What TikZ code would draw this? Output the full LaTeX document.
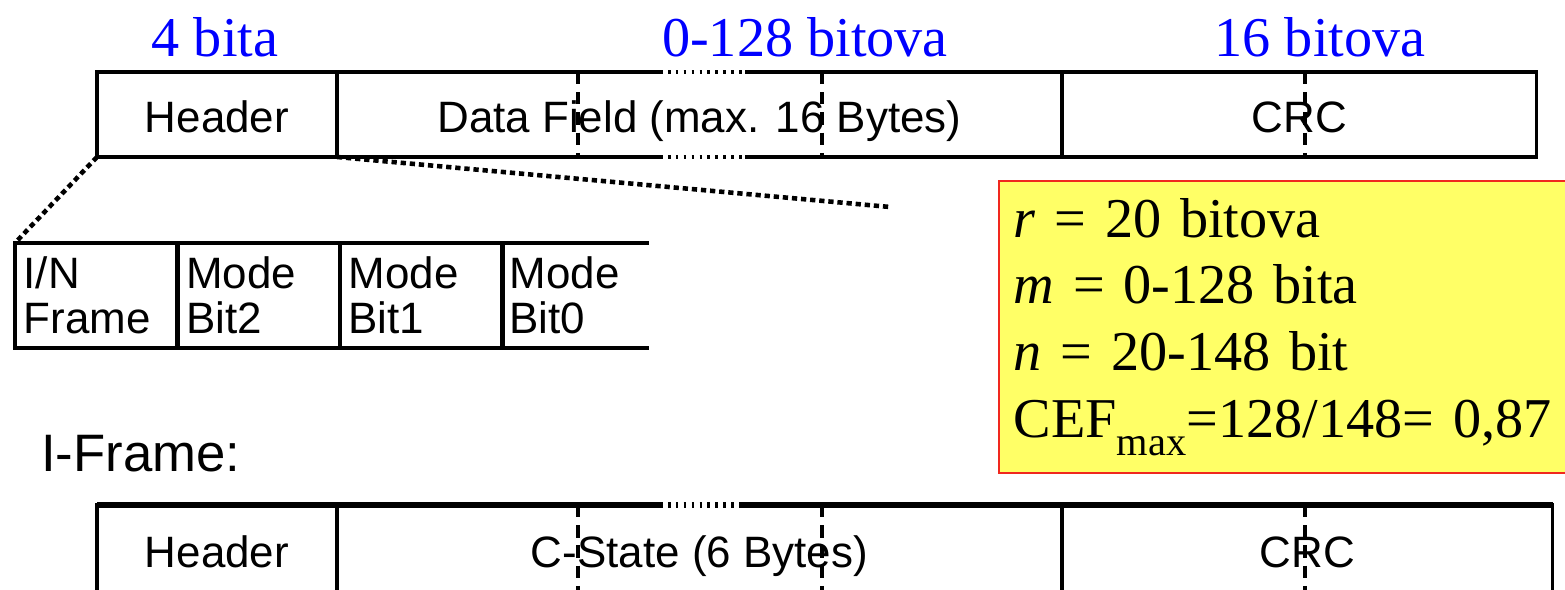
\documentclass[tikz,border=0pt]{standalone}
\usepackage{fontspec}
\setmainfont{Liberation Serif}
\newfontfamily\arialfont{Liberation Sans}
\usetikzlibrary{positioning, calc}
\definecolor{notefill}{RGB}{255,255,102}
\definecolor{noteline}{RGB}{240,40,30}

\begin{document}
\begin{tikzpicture}[x=0.02cm, y=-0.02cm,
  field/.style={
    rectangle, draw, line width=2pt, outer sep=0pt, inner sep=0pt,
    minimum height=1.7cm, anchor=north west, text height=24pt, text depth=3pt,
    font=\arialfont\fontsize{25}{28}\selectfont},
  bitcell/.style={
    rectangle, draw, line width=2.6pt, outer sep=0pt, inner sep=0pt,
    minimum width=3.25cm, minimum height=2.1cm, text width=2.9cm,
    align=left, anchor=north west,
    font=\arialfont\fontsize{25}{25.5}\selectfont},
  size/.style={anchor=base, text=blue, font=\fontsize{32}{36}\selectfont},
  sep/.style={line width=2pt, dash pattern=on 7pt off 4.5pt},
  gap/.style={line width=2pt, dash pattern=on 1.5pt off 3pt},
  zoomln/.style={line width=2.6pt, dash pattern=on 3pt off 2.2pt},
  note/.style={
    rectangle, draw=noteline, fill=notefill, line width=1pt,
    anchor=north west, inner xsep=0.3cm, text width=13cm,
    minimum height=5.84cm, align=left,
    font=\fontsize{32}{38}\selectfont}
]
\useasboundingbox (0,0) rectangle (1565,590);
% -- N-Frame --
\node[field, minimum width=4.8cm] (hdr) at (97,72) {Header};
\node[field, minimum width=14.5cm, right=0pt of hdr] (data) {Data Field (max. 16 Bytes)};
\node[field, minimum width=9.5cm, right=0pt of data] (crc) {CRC};
\draw[sep] (578,72) -- (578,157);
\draw[sep] (822,72) -- (822,157);
\draw[sep] (1305,72) -- (1305,157);
\draw[white, line width=3pt] (660,72) -- (745,72) (660,157) -- (745,157);
\draw[gap] (660,72) -- (745,72);
\draw[gap] (660,157) -- (745,157);
% -- field sizes --
\node[size] at (215,57) {4 bita};
\node[size] at (805,57) {0-128 bitova};
\node[size] at (1320,57) {16 bitova};
% -- header bits --
\node[bitcell] (bin) at (15,243) {I/N\\Frame};
\node[bitcell, right=0pt of bin] (b2) {Mode\\Bit2};
\node[bitcell, right=0pt of b2] (b1) {Mode\\Bit1};
\node[bitcell, draw=none, minimum width=2.94cm, text width=2.65cm, right=0pt of b1] (b0) {Mode\\Bit0};
\draw[line width=2.6pt] (b0.north west) -- (b0.north east);
\draw[line width=2.6pt] (b0.south west) -- (b0.south east);
% -- zoom --
\coordinate (zend) at (890,207);
\draw[zoomln] (hdr.south west) -- (bin.north west);
\draw[zoomln] (hdr.south east) -- (zend);
% -- note --
\node[note] (cef) at (998,180) {\textit{r} = 20 bitova\\
  \textit{m} = 0-128 bita\\
  \textit{n} = 20-148 bit\\
  CEF\raisebox{-0.32em}{\fontsize{23}{23}\selectfont max}=128/148= 0,87\\[-0.35em]};
% -- I-Frame --
\node[anchor=base west, font=\arialfont\fontsize{30}{34}\selectfont] (ilbl) at (35,472) {I-Frame:};
\node[field, minimum width=4.8cm, minimum height=1.78cm] (hdr2) at (97,505) {Header};
\node[field, minimum width=14.5cm, minimum height=1.78cm, right=0pt of hdr2] (state) {C-State (6 Bytes)};
\node[field, minimum width=9.82cm, minimum height=1.78cm, right=0pt of state] (crc2) {CRC};
\draw[line width=3.6pt] (hdr2.north west) -- (crc2.north east);
\draw[sep] (578,505) -- (578,600);
\draw[sep] (822,505) -- (822,600);
\draw[sep] (1305,505) -- (1305,600);
\draw[white, line width=4.2pt] (660,505) -- (742,505);
\draw[line width=3.6pt, dash pattern=on 1.5pt off 3pt] (660,505) -- (742,505);
\end{tikzpicture}
\end{document}
